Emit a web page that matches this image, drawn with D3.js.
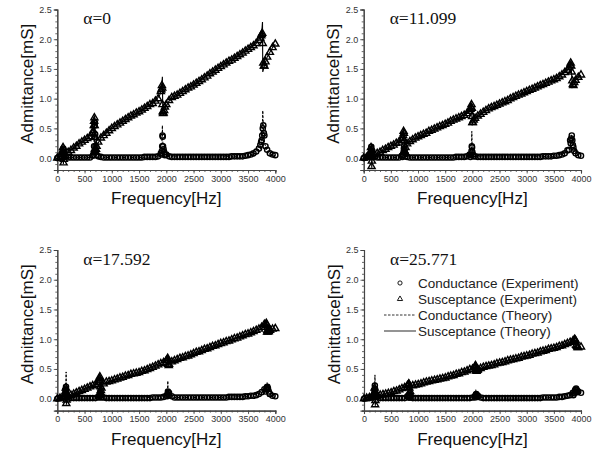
<!DOCTYPE html>
<html><head><meta charset="utf-8">
<script src="https://cdn.jsdelivr.net/npm/d3@7/dist/d3.min.js"></script>
<style>body{margin:0;background:#fff}svg{display:block}</style>
</head><body><svg id="c" width="597" height="452"></svg>
<script>
// ---------- data ----------
const freqGrid = [
  0,50,100,150,200,250,300,350,400,450,
  500,550,600,650,700,750,800,850,900,950,
  1000,1050,1100,1150,1200,1250,1300,1350,1400,1450,
  1500,1550,1600,1650,1700,1750,1800,1850,1900,1950,
  2000,2050,2100,2150,2200,2250,2300,2350,2400,2450,
  2500,2550,2600,2650,2700,2750,2800,2850,2900,2950,
  3000,3050,3100,3150,3200,3250,3300,3350,3400,3450,
  3500,3550,3600,3650,3700,3750,3800,3850,3900,3950,
  4000];
const alphaLabels = ["α=0", "α=11.099", "α=17.592", "α=25.771"];
const xTicks = [0,500,1000,1500,2000,2500,3000,3500,4000];
const yTicks = [0.0,0.5,1.0,1.5,2.0,2.5];
const legendLabels = ["Conductance (Experiment)","Susceptance (Experiment)","Conductance (Theory)","Susceptance (Theory)"];

// panel 1 (alpha = 0)
const B1 = [
  0.00,0.02,0.10,0.04,0.10,0.13,0.17,0.20,0.24,0.27,
  0.30,0.33,0.36,0.42,0.10,0.27,0.34,0.38,0.42,0.46,
  0.50,0.53,0.56,0.59,0.62,0.65,0.68,0.71,0.73,0.76,
  0.78,0.81,0.84,0.87,0.90,0.92,0.96,1.00,1.12,0.76,
  0.90,0.97,1.02,1.04,1.06,1.09,1.12,1.15,1.18,1.20,
  1.23,1.26,1.29,1.32,1.35,1.38,1.42,1.45,1.48,1.51,
  1.54,1.57,1.60,1.63,1.65,1.68,1.71,1.74,1.77,1.80,
  1.83,1.86,1.89,1.93,1.98,2.08,1.55,1.70,1.78,1.86,
  1.92];
const G1 = [
  0.00,0.01,0.10,0.03,0.01,0.01,0.01,0.01,0.01,0.01,
  0.01,0.01,0.01,0.04,0.20,0.03,0.02,0.01,0.01,0.01,
  0.01,0.01,0.01,0.01,0.01,0.01,0.01,0.01,0.01,0.01,
  0.01,0.01,0.02,0.02,0.02,0.02,0.02,0.03,0.08,0.15,
  0.06,0.03,0.02,0.02,0.02,0.02,0.02,0.02,0.02,0.02,
  0.02,0.02,0.02,0.02,0.02,0.02,0.02,0.02,0.02,0.02,
  0.02,0.02,0.02,0.02,0.03,0.03,0.03,0.03,0.03,0.04,
  0.05,0.06,0.08,0.11,0.16,0.30,0.38,0.14,0.08,0.06,
  0.05];
const rF1 = [95,105,110,115,120,125, 660,670,675,680,685,690,695,710,720, 1910,1920,1925,1930,1935,1940,1960,1975, 3725,3740,3760,3770,3780,3790,3820];
const rB1 = [0.12,0.18,0.10,-0.08,-0.02,0.02, 0.46,0.55,0.62,0.68,0.55,0.35,0.15,0.15,0.20, 1.15,1.22,1.18,0.90,0.78,0.75,0.80,0.86, 2.02,2.06,2.10,1.93,1.60,1.55,1.62];
const rG1 = [0.06,0.14,0.16,0.10,0.05,0.02, 0.05,0.10,0.20,0.35,0.55,0.60,0.40,0.10,0.05, 0.06,0.12,0.20,0.38,0.36,0.20,0.10,0.05, 0.22,0.27,0.38,0.50,0.55,0.42,0.20];
const thF1 = [0,80,100,108,112,116,130, 200,400,600,650,670,680,686,692,700,720, 800,1000,1500,1800,1880,1915,1928,1935,1945,1970, 2050,2200,2500,3000,3500,3650,3720,3750,3765,3770, 3790,3850,3950,4000];
const thB1 = [0.00,0.03,0.12,0.20,-0.10,0.00,0.04, 0.10,0.24,0.36,0.42,0.52,0.72,0.30,0.05,0.10,0.20, 0.34,0.50,0.78,0.96,1.06,1.20,1.37,0.80,0.72,0.82, 0.96,1.06,1.23,1.54,1.83,1.93,2.02,2.10,2.29,1.45, 1.52,1.70,1.86,1.92];
const thG1 = [0.00,0.01,0.05,0.18,0.15,0.04,0.01, 0.01,0.01,0.01,0.03,0.15,0.45,0.70,0.30,0.10,0.03, 0.01,0.01,0.01,0.02,0.04,0.12,0.55,0.30,0.12,0.05, 0.03,0.02,0.02,0.02,0.04,0.07,0.13,0.28,0.60,0.80, 0.30,0.10,0.05,0.04];

// panel 2 (alpha = 11.099)
const B2 = [
  0.00,0.01,0.03,0.02,0.06,0.08,0.10,0.13,0.15,0.18,
  0.20,0.22,0.25,0.27,0.30,0.12,0.24,0.28,0.31,0.34,
  0.36,0.38,0.40,0.42,0.45,0.47,0.49,0.51,0.53,0.55,
  0.57,0.59,0.62,0.64,0.66,0.68,0.70,0.72,0.75,0.79,
  0.60,0.67,0.71,0.74,0.77,0.80,0.83,0.85,0.87,0.89,
  0.91,0.93,0.95,0.97,1.00,1.02,1.04,1.06,1.08,1.10,
  1.12,1.14,1.16,1.18,1.20,1.22,1.24,1.26,1.28,1.30,
  1.32,1.34,1.37,1.40,1.44,1.48,1.56,1.24,1.31,1.36,
  1.40];
const G2 = [
  0.00,0.01,0.03,0.12,0.02,0.01,0.01,0.01,0.01,0.01,
  0.01,0.01,0.01,0.01,0.04,0.10,0.02,0.01,0.01,0.01,
  0.01,0.01,0.01,0.01,0.01,0.01,0.01,0.01,0.01,0.01,
  0.01,0.01,0.01,0.01,0.02,0.02,0.02,0.02,0.03,0.06,
  0.10,0.03,0.02,0.02,0.02,0.02,0.02,0.02,0.02,0.02,
  0.02,0.02,0.02,0.02,0.02,0.02,0.02,0.02,0.02,0.02,
  0.02,0.02,0.02,0.02,0.02,0.02,0.03,0.03,0.03,0.03,
  0.04,0.04,0.05,0.06,0.08,0.13,0.30,0.22,0.08,0.05,
  0.04];
const rF2 = [120,130,135,140,145,150,160, 715,725,735,740,745,750,760,770, 1965,1975,1985,1990,1995,2010,2025, 3780,3810,3820,3830,3840,3860,3875];
const rB2 = [0.05,0.12,0.18,0.08,-0.14,-0.05,0.03, 0.33,0.38,0.45,0.42,0.30,0.12,0.10,0.18, 0.82,0.86,0.90,0.84,0.70,0.60,0.64, 1.52,1.60,1.55,1.45,1.30,1.22,1.27];
const rG2 = [0.03,0.08,0.15,0.19,0.12,0.06,0.02, 0.02,0.05,0.10,0.16,0.20,0.15,0.08,0.03, 0.02,0.05,0.12,0.20,0.18,0.06,0.03, 0.14,0.25,0.33,0.38,0.30,0.18,0.12];
const thF2 = [0,120,135,142,148,160, 400,700,730,740,746,752,770, 900,1500,1900,1970,1985,1990,1996,2010,2050,2200, 3000,3500,3750,3800,3815,3825,3840,3900,4000];
const thB2 = [0.00,0.05,0.17,0.22,-0.16,0.02, 0.15,0.30,0.38,0.47,0.30,0.08,0.18, 0.31,0.57,0.75,0.84,0.93,0.80,0.55,0.60,0.67,0.77, 1.12,1.32,1.48,1.56,1.61,1.45,1.20,1.31,1.40];
const thG2 = [0.00,0.02,0.10,0.22,0.12,0.02, 0.01,0.01,0.05,0.15,0.22,0.10,0.03, 0.01,0.01,0.02,0.05,0.15,0.45,0.20,0.06,0.03,0.02, 0.02,0.03,0.10,0.18,0.28,0.40,0.30,0.08,0.04];

// panel 3 (alpha = 17.592)
const B3 = [
  0.00,0.01,0.02,0.03,0.04,0.06,0.08,0.10,0.12,0.14,
  0.16,0.18,0.20,0.22,0.24,0.27,0.14,0.25,0.28,0.29,
  0.30,0.32,0.33,0.35,0.36,0.38,0.39,0.41,0.42,0.43,
  0.44,0.46,0.47,0.49,0.51,0.53,0.55,0.57,0.59,0.61,
  0.64,0.58,0.62,0.64,0.66,0.68,0.69,0.71,0.72,0.74,
  0.76,0.78,0.79,0.81,0.83,0.84,0.86,0.88,0.89,0.91,
  0.93,0.94,0.96,0.97,0.99,1.01,1.02,1.04,1.06,1.08,
  1.09,1.11,1.13,1.15,1.17,1.20,1.25,1.12,1.15,1.17,
  1.18];
const G3 = [
  0.00,0.01,0.02,0.15,0.03,0.01,0.01,0.01,0.01,0.01,
  0.01,0.01,0.01,0.01,0.01,0.03,0.06,0.02,0.01,0.01,
  0.01,0.01,0.01,0.01,0.01,0.01,0.01,0.01,0.01,0.01,
  0.01,0.01,0.01,0.01,0.01,0.02,0.02,0.02,0.02,0.03,
  0.05,0.10,0.04,0.02,0.02,0.02,0.02,0.02,0.02,0.02,
  0.02,0.02,0.02,0.02,0.02,0.02,0.02,0.02,0.02,0.02,
  0.02,0.02,0.02,0.03,0.03,0.03,0.03,0.03,0.03,0.04,
  0.04,0.05,0.05,0.06,0.08,0.11,0.16,0.18,0.08,0.05,
  0.04];
const rF3 = [140,150,155,160,165,170,180, 765,775,780,785,790,795,810, 2015,2025,2030,2035,2045, 3820,3835,3845,3855,3865,3880,3900];
const rB3 = [0.04,0.12,0.18,0.10,-0.08,-0.02,0.03, 0.30,0.34,0.37,0.30,0.20,0.10,0.18, 0.65,0.68,0.65,0.58,0.56, 1.23,1.27,1.24,1.15,1.12,1.13,1.15];
const rG3 = [0.03,0.08,0.15,0.20,0.14,0.06,0.02, 0.02,0.05,0.08,0.10,0.08,0.05,0.02, 0.04,0.08,0.12,0.10,0.06, 0.12,0.16,0.19,0.20,0.17,0.12,0.08];
const thF3 = [0,140,155,162,168,180, 400,700,770,782,788,795,820, 1000,1500,2000,2020,2028,2034,2045,2100, 2500,3000,3500,3800,3840,3850,3862,3900,4000];
const thB3 = [0.00,0.04,0.16,0.22,-0.10,0.03, 0.12,0.24,0.31,0.38,0.22,0.12,0.24, 0.30,0.44,0.64,0.67,0.70,0.56,0.57,0.62, 0.76,0.93,1.09,1.20,1.28,1.20,1.10,1.15,1.18];
const thG3 = [0.00,0.02,0.10,0.45,0.12,0.02, 0.01,0.01,0.04,0.12,0.10,0.04,0.01, 0.01,0.01,0.04,0.08,0.30,0.10,0.05,0.02, 0.02,0.02,0.04,0.12,0.22,0.27,0.15,0.07,0.04];

// panel 4 (alpha = 25.771)
const B4 = [
  0.00,0.01,0.02,0.03,0.04,0.05,0.06,0.07,0.08,0.09,
  0.10,0.12,0.13,0.15,0.17,0.19,0.22,0.12,0.22,0.23,
  0.24,0.25,0.27,0.28,0.29,0.30,0.31,0.32,0.33,0.34,
  0.35,0.37,0.38,0.39,0.41,0.42,0.44,0.45,0.47,0.49,
  0.50,0.54,0.49,0.51,0.53,0.54,0.55,0.56,0.57,0.59,
  0.60,0.61,0.62,0.64,0.65,0.66,0.67,0.68,0.70,0.71,
  0.72,0.73,0.75,0.76,0.77,0.79,0.80,0.81,0.83,0.84,
  0.85,0.86,0.88,0.89,0.91,0.93,0.95,0.97,0.98,0.86,
  0.87];
const G4 = [
  0.00,0.01,0.01,0.02,0.12,0.03,0.01,0.01,0.01,0.01,
  0.01,0.01,0.01,0.01,0.01,0.01,0.04,0.02,0.01,0.01,
  0.01,0.01,0.01,0.01,0.01,0.01,0.01,0.01,0.01,0.01,
  0.01,0.01,0.01,0.01,0.01,0.01,0.01,0.01,0.01,0.01,
  0.02,0.05,0.05,0.02,0.01,0.01,0.01,0.01,0.01,0.01,
  0.01,0.01,0.01,0.01,0.01,0.01,0.01,0.01,0.01,0.01,
  0.01,0.01,0.01,0.01,0.01,0.01,0.02,0.02,0.02,0.02,
  0.02,0.02,0.03,0.03,0.04,0.05,0.06,0.10,0.15,0.12,
  0.10];
const rF4 = [180,190,195,200,205,210,220, 815,825,830,835,840,845, 2045,2055,2065,2070,2075,2090, 3860,3875,3885,3895,3910,3925,3935];
const rB4 = [0.04,0.10,0.18,0.12,-0.10,-0.03,0.04, 0.23,0.25,0.24,0.18,0.10,0.08, 0.53,0.56,0.53,0.48,0.46,0.48, 0.96,0.99,1.00,0.97,0.90,0.88,0.86];
const rG4 = [0.03,0.08,0.15,0.22,0.16,0.08,0.03, 0.02,0.03,0.05,0.06,0.04,0.02, 0.02,0.04,0.07,0.08,0.06,0.03, 0.06,0.09,0.12,0.15,0.17,0.14,0.11];
const thF4 = [0,180,195,202,208,220, 500,800,828,836,845,870, 1000,1500,2000,2050,2060,2068,2080,2100, 2500,3000,3500,3850,3880,3900,3930,4000];
const thB4 = [0.00,0.04,0.15,0.22,-0.12,0.04, 0.10,0.22,0.26,0.12,0.15,0.22, 0.24,0.35,0.50,0.54,0.57,0.45,0.47,0.49, 0.60,0.72,0.85,0.96,1.01,0.92,0.85,0.87];
const thG4 = [0.00,0.02,0.10,0.40,0.10,0.02, 0.01,0.01,0.04,0.06,0.03,0.01, 0.01,0.01,0.02,0.05,0.15,0.08,0.03,0.02, 0.01,0.01,0.02,0.06,0.12,0.17,0.12,0.10];

// ---------- layout ----------
const panels = [
  {B:B1,G:G1,rF:rF1,rB:rB1,rG:rG1,tF:thF1,tB:thB1,tG:thG1},
  {B:B2,G:G2,rF:rF2,rB:rB2,rG:rG2,tF:thF2,tB:thB2,tG:thG2},
  {B:B3,G:G3,rF:rF3,rB:rB3,rG:rG3,tF:thF3,tB:thB3,tG:thG3},
  {B:B4,G:G4,rF:rF4,rB:rB4,rG:rG4,tF:thF4,tB:thB4,tG:thG4}
];
const boxes = [
  {x0:57.3, x1:275.3, yT:9.5,  yB:170},
  {x0:363.7,x1:581,   yT:9.5,  yB:170},
  {x0:57.3, x1:275.3, yT:250,  yB:410.6},
  {x0:364,  x1:581,   yT:250,  yB:410.6}
];

const sans = "'Liberation Sans', Arial, sans-serif";
const serif = "'Liberation Serif', 'Times New Roman', serif";
const svg = d3.select("#c");
const axisColor = "#444";

panels.forEach((p, i) => {
  const b = boxes[i];
  const x = d3.scaleLinear().domain([0, 4000]).range([b.x0, b.x1]);
  const y = d3.scaleLinear().domain([-0.2, 2.5]).range([b.yB, b.yT]);
  const g = svg.append("g");

  // axes
  const minorY = d3.range(-2, 26).map(v => v / 10);
  const minorX = d3.range(0, 41).map(v => v * 100);
  g.append("g").attr("transform", `translate(${b.x0},0)`)
    .call(d3.axisLeft(y).tickValues(minorY).tickSize(2).tickFormat(""));
  g.append("g").attr("transform", `translate(${b.x0},0)`)
    .call(d3.axisLeft(y).tickValues(yTicks).tickSize(3.5).tickPadding(2).tickFormat(d3.format(".1f")));
  g.append("g").attr("transform", `translate(0,${b.yB})`)
    .call(d3.axisBottom(x).tickValues(minorX).tickSize(2).tickFormat(""));
  g.append("g").attr("transform", `translate(0,${b.yB})`)
    .call(d3.axisBottom(x).tickValues(xTicks).tickSize(3.5).tickPadding(2).tickFormat(d3.format("d")));
  g.selectAll(".domain").attr("stroke", axisColor).attr("stroke-width", 1.1);
  g.selectAll(".tick line").attr("stroke", axisColor).attr("stroke-width", 0.8);
  g.selectAll(".tick text").attr("fill", "#333").style("font-family", sans).style("font-size", "9px");

  // experiment points
  const ptsB = freqGrid.map((f, k) => [f, p.B[k]]).concat(p.rF.map((f, k) => [f, p.rB[k]]));
  const ptsG = freqGrid.map((f, k) => [f, p.G[k]]).concat(p.rF.map((f, k) => [f, p.rG[k]]));
  const tri = d3.symbol(d3.symbolTriangle, 22);
  g.append("g").selectAll("path").data(ptsB).join("path")
    .attr("d", tri).attr("transform", d => `translate(${x(d[0])},${y(d[1])})`)
    .attr("fill", "none").attr("stroke", "#000").attr("stroke-width", 1.4);
  g.append("g").selectAll("circle").data(ptsG).join("circle")
    .attr("cx", d => x(d[0])).attr("cy", d => y(d[1])).attr("r", 2.6)
    .attr("fill", "none").attr("stroke", "#000").attr("stroke-width", 1.4);

  // theory lines
  const line = d3.line().x(d => x(d[0])).y(d => y(d[1]));
  g.append("path").datum(p.tF.map((f, k) => [f, p.tB[k]])).attr("d", line)
    .attr("fill", "none").attr("stroke", "#000").attr("stroke-width", 1.1);
  g.append("path").datum(p.tF.map((f, k) => [f, p.tG[k]])).attr("d", line)
    .attr("fill", "none").attr("stroke", "#000").attr("stroke-width", 1).attr("stroke-dasharray", "2.5,1.5");

  // labels
  svg.append("text").attr("x", (b.x0 + b.x1) / 2).attr("y", b.yB + 34)
    .attr("text-anchor", "middle").attr("fill", "#111")
    .style("font-family", sans).style("font-size", "17px")
    .text("Frequency[Hz]");
  const cy = (b.yT + b.yB) / 2 - 6;
  svg.append("text").attr("transform", `translate(${b.x0 - 24.5},${cy}) rotate(-90)`)
    .attr("text-anchor", "middle").attr("fill", "#111")
    .style("font-family", sans).style("font-size", "17px")
    .text("Admittance[mS]");
  svg.append("text").attr("x", b.x0 + 26).attr("y", b.yT + 14.5)
    .attr("fill", "#111")
    .style("font-family", serif).style("font-size", "17.5px")
    .text(alphaLabels[i]);
});

// legend in panel 4
const lg = svg.append("g");
const lgY = [283, 299, 315, 331];
lg.append("circle").attr("cx", 400).attr("cy", lgY[0]).attr("r", 2.1)
  .attr("fill", "none").attr("stroke", "#000").attr("stroke-width", 0.9);
lg.append("path").attr("d", d3.symbol(d3.symbolTriangle, 12)).attr("transform", `translate(400,${lgY[1]})`)
  .attr("fill", "none").attr("stroke", "#000").attr("stroke-width", 0.9);
lg.append("line").attr("x1", 384).attr("x2", 416).attr("y1", lgY[2]).attr("y2", lgY[2])
  .attr("stroke", "#333").attr("stroke-width", 1).attr("stroke-dasharray", "2.5,1.5");
lg.append("line").attr("x1", 384).attr("x2", 416).attr("y1", lgY[3]).attr("y2", lgY[3])
  .attr("stroke", "#666").attr("stroke-width", 1.4);
lg.selectAll("text").data(legendLabels).join("text")
  .attr("x", 418).attr("y", (d, k) => lgY[k] + 4.5).attr("fill", "#222")
  .style("font-family", sans).style("font-size", "13.5px")
  .text(d => d);
</script>
</body></html>
